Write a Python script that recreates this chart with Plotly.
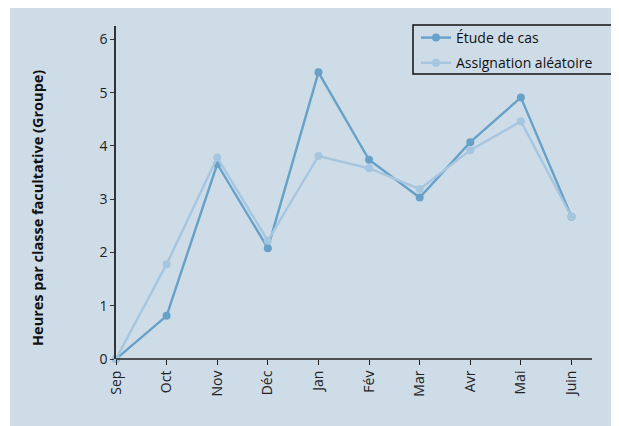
import plotly.graph_objects as go

months = ["Sep", "Oct", "Nov", "Déc", "Jan", "Fév", "Mar", "Avr", "Mai", "Juin"]
etude_de_cas = [0.0, 0.81, 3.66, 2.08, 5.38, 3.74, 3.03, 4.07, 4.91, 2.67]
assignation = [0.0, 1.78, 3.78, 2.22, 3.81, 3.58, 3.19, 3.92, 4.46, 2.67]
y_ticks = [0, 1, 2, 3, 4, 5, 6]
y_title = "Heures par classe facultative (Groupe)"

DARK = "#67A1C8"
LIGHT = "#A6C6DF"
PANEL = "#CEDCE8"
FONT = "Open Sans"

fig = go.Figure()
fig.add_trace(go.Scatter(
    x=months, y=etude_de_cas, name="Étude de cas", mode="lines+markers",
    line=dict(color=DARK, width=2.4), marker=dict(color=DARK, size=8),
    cliponaxis=False, legendgroup="a",
))
fig.add_trace(go.Scatter(
    x=months, y=assignation, name="Assignation aléatoire", mode="lines+markers",
    line=dict(color=LIGHT, width=2.4), marker=dict(color=LIGHT, size=8),
    cliponaxis=False, legendgroup="b",
))

# page has an 8px body margin; coordinates below are figure coordinates
W, H = 619, 426
L, R, T, B = 108, 14, 18, 75
pw, ph = W - L - R, H - T - B

def px(x):
    return (x - L) / pw

def py(y):
    return (H - B - y) / ph

# background panel
fig.add_shape(
    type="rect", xref="paper", yref="paper", layer="below",
    x0=px(2), x1=px(W + 20), y0=py(H + 20), y1=py(-2),
    fillcolor=PANEL, line=dict(width=0),
)
# x axis line (ends short of the plot edge)
fig.add_shape(
    type="line", xref="paper", yref="paper", layer="above",
    x0=0, x1=px(584), y0=0, y1=0,
    line=dict(color="#222222", width=1.5),
)
# legend frame
fig.add_shape(
    type="rect", xref="paper", yref="paper", layer="above",
    x0=px(405), x1=px(605), y0=py(66), y1=py(17),
    line=dict(color="#111111", width=1.5), fillcolor="rgba(0,0,0,0)",
)
# y axis title
fig.add_annotation(
    text="<b>" + y_title + "</b>", xref="paper", yref="paper",
    x=px(29), y=py(200), xanchor="center", yanchor="middle",
    textangle=-90, showarrow=False,
    font=dict(family=FONT, size=14.5, color="#111111"),
)

fig.update_layout(
    width=W, height=H,
    margin=dict(l=L, r=R, t=T, b=B, autoexpand=False),
    paper_bgcolor="white",
    plot_bgcolor="rgba(0,0,0,0)",
    font=dict(family=FONT, size=14, color="#222222"),
    showlegend=True,
    legend=dict(
        x=px(408), xanchor="left",
        y=py(14), yanchor="top",
        bgcolor="rgba(0,0,0,0)", borderwidth=0,
        font=dict(family=FONT, size=14, color="#111111"),
        traceorder="grouped", tracegroupgap=4, itemwidth=30,
    ),
    xaxis=dict(
        type="category", categoryorder="array", categoryarray=months,
        range=[0, (605 - L) / ((563.5 - L) / 9)], showgrid=False, zeroline=False,
        showline=False,
        ticks="outside", ticklen=5, tickcolor="#222222", tickwidth=1.2,
        tickangle=-90, tickfont=dict(size=14), automargin=False,
    ),
    yaxis=dict(
        range=[0, 6.25], tickvals=y_ticks, showgrid=False, zeroline=False,
        showline=True, linecolor="#333333", linewidth=1.5,
        ticks="outside", ticklen=4, tickcolor="#333333", tickwidth=1.2,
        tickfont=dict(size=14), automargin=False,
    ),
)

fig.write_html("out.html")
